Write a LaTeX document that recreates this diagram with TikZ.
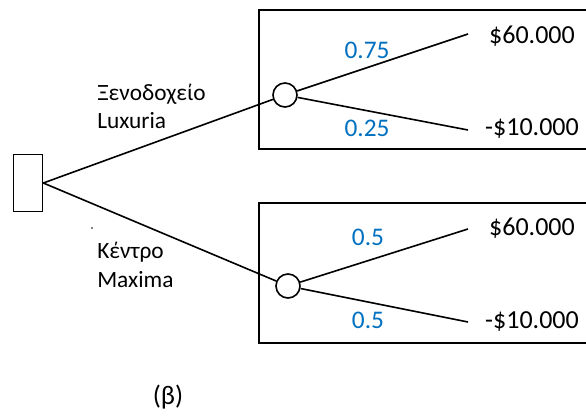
\documentclass[tikz,border=0pt]{standalone}
\usepackage{fontspec}
\setmainfont{Carlito}
\usepackage{tikz}

\definecolor{probblue}{RGB}{0,112,192}

\tikzset{
  decision/.style={draw,line width=1.2pt,minimum width=29*0.75pt,minimum height=57*0.75pt,inner sep=0pt},
  chance/.style={draw,circle,line width=1.2pt,minimum size=24*0.75pt,inner sep=0pt,fill=white},
  branch/.style={line width=1.2pt},
  prob/.style={text=probblue,font=\fontsize{19}{22}\selectfont,inner sep=0.75pt},
  payoff/.style={font=\fontsize{19.5}{22}\selectfont,inner sep=0.75pt},
  alttext/.style={font=\fontsize{17.5}{20}\selectfont,anchor=west,inner sep=0.75pt}
}

\begin{document}
\begin{tikzpicture}[x=0.75pt,y=0.75pt,yscale=-1,xscale=1]
\useasboundingbox (0,0) rectangle (586,417);

%Boxes round the two chance nodes (open on the right)
\draw [line width=1.2pt] (587,10) -- (259,10) -- (259,149) -- (587,149) ;
\draw [line width=1.2pt] (587,203) -- (259,203) -- (259,343) -- (587,343) ;

%Nodes
\node [decision] (dec) at (28,183) {};
\node [chance] (ch1) at (285,95) {};
\node [chance] (ch2) at (288,286) {};

%Branch ends
\coordinate (e1) at (468,34);
\coordinate (e2) at (468,130);
\coordinate (e3) at (468,229);
\coordinate (e4) at (468,322);

%Straight Lines
\draw [branch] (dec.east) -- (ch1) ;
\draw [branch] (dec.east) -- (ch2) ;
\draw [branch] (ch1) -- (e1) ;
\draw [branch] (ch1) -- (e2) ;
\draw [branch] (ch2) -- (e3) ;
\draw [branch] (ch2) -- (e4) ;

% Text Node
\node [alttext] (t1) at (96,94) {Ξενοδοχείο};
\node [alttext] (t2) at (96,121) {Luxuria};
\node [alttext] (t3) at (96,252) {Κέντρο};
\node [alttext] (t4) at (96,280) {Maxima};
\fill (92,228) circle (0.9) ;
% Text Node
\node [prob] (p1) at (367,50) {0.75};
\node [prob] (p2) at (367,128) {0.25};
\node [prob] (p3) at (368,237) {0.5};
\node [prob] (p4) at (368,320) {0.5};
% Text Node
\node [payoff] (v1) at (532,36) {\$60.000};
\node [payoff] (v2) at (532,129) {-\$10.000};
\node [payoff] (v3) at (532,228) {\$60.000};
\node [payoff] (v4) at (532,322) {-\$10.000};
% Text Node
\node [font=\fontsize{20}{24}\selectfont] (cap) at (168,397) {(β)};

\end{tikzpicture}
\end{document}
